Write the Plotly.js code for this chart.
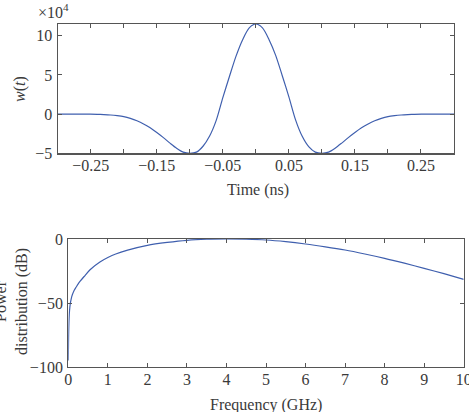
<!DOCTYPE html>
<html><head><meta charset="utf-8">
<script src="https://cdn.plot.ly/plotly-3.0.1.min.js"></script>
<style>html,body{margin:0;padding:0;background:#fff}#chart{width:469px;height:412px}</style>
</head><body><div id="chart"></div>
<script>
// Top panel: waveform w(t), values in units of 10^4
const timeNs = [-0.30,-0.28,-0.26,-0.24,-0.23,-0.22,-0.21,-0.20,-0.19,-0.18,-0.17,-0.16,-0.15,-0.14,-0.13,-0.12,-0.11,-0.10,-0.09,-0.08,-0.07,-0.06,-0.05,-0.04,-0.03,-0.02,-0.01,0,
  0.01,0.02,0.03,0.04,0.05,0.06,0.07,0.08,0.09,0.10,0.11,0.12,0.13,0.14,0.15,0.16,0.17,0.18,0.19,0.20,0.21,0.22,0.23,0.24,0.26,0.28,0.30];
const waveform = [0,0,0,-0.03,-0.06,-0.11,-0.2,-0.33,-0.55,-0.85,-1.25,-1.75,-2.35,-3.0,-3.7,-4.35,-4.85,-5.0,-4.85,-4.1,-2.8,-0.8,2.1,4.8,7.4,9.5,11.0,11.5,
  11.0,9.5,7.5,4.9,2.2,-0.7,-2.8,-4.15,-4.85,-5.0,-4.85,-4.35,-3.7,-3.0,-2.35,-1.75,-1.25,-0.85,-0.55,-0.33,-0.2,-0.11,-0.06,-0.03,0,0,0];
const timeTickVals = [-0.25,-0.15,-0.05,0.05,0.15,0.25];
const timeTickText = ['\u22120.25','\u22120.15','\u22120.05','0.05','0.15','0.25'];
const timeMinorVals = [-0.2,-0.1,0,0.1,0.2];
const waveTickVals = [-5,0,5,10];

// Bottom panel: power distribution (dB)
const freqGHz = [0,0.005,0.01,0.02,0.03,0.05,0.075,0.1,0.15,0.2,0.25,0.3,0.4,0.55,0.8,1.0,1.2,1.5,2.0,2.5,3.0,3.5,4.0,4.5,5.0,5.5,6.0,6.5,7.0,7.5,8.0,8.5,9.0,9.5,10];
const powerDb = [-95,-82,-72,-62,-56.5,-50.5,-46.5,-43.8,-40,-37.5,-35,-33,-29.3,-24,-18,-14.5,-11.7,-8.7,-5,-2.7,-1.0,-0.2,0,-0.2,-0.8,-2.1,-3.9,-6.1,-8.6,-11.7,-15.1,-18.9,-22.9,-27.1,-31.5];
const freqTickVals = [0,1,2,3,4,5,6,7,8,9,10];
const powerTickVals = [-100,-50,0];

const W = 469, H = 412;
const px = x => x / W;
const py = y => 1 - y / H;

const lineColor = '#3f5fae';
const axisColor = '#555555';
const textColor = '#3a3a3a';
const font = {family: '"Liberation Serif", "Times New Roman", serif', size: 16, color: textColor};

const axisBase = {
  showline: true, linecolor: axisColor, linewidth: 1.2, mirror: 'ticks',
  ticks: 'inside', ticklen: 4, tickwidth: 1, tickcolor: axisColor,
  showgrid: false, zeroline: false, tickfont: font, fixedrange: true,
  ticklabeloverflow: 'allow'
};

const data = [
  {x: timeNs, y: waveform, type: 'scatter', mode: 'lines', xaxis: 'x', yaxis: 'y',
   line: {color: lineColor, width: 1.2, shape: 'spline', smoothing: 0.8}, hoverinfo: 'skip'},
  {x: freqGHz, y: powerDb, type: 'scatter', mode: 'lines', xaxis: 'x2', yaxis: 'y2',
   line: {color: lineColor, width: 1.2, shape: 'spline', smoothing: 0.8}, hoverinfo: 'skip'}
];

const layout = {
  width: W, height: H,
  margin: {l: 0, r: 0, t: 0, b: 0},
  paper_bgcolor: '#fff', plot_bgcolor: '#fff',
  showlegend: false, font: font,
  xaxis: Object.assign({}, axisBase, {
    domain: [px(57.7), px(454)], range: [-0.3, 0.3], anchor: 'y',
    tickmode: 'array', tickvals: timeTickVals, ticktext: timeTickText, ticklabelstandoff: -3,
    minor: {tickmode: 'array', tickvals: timeMinorVals, ticks: 'inside', ticklen: 4, tickwidth: 1, tickcolor: axisColor, showgrid: false}
  }),
  yaxis: Object.assign({}, axisBase, {
    domain: [py(153.3), py(24)], range: [-5, 11.5], anchor: 'x',
    tickmode: 'array', tickvals: waveTickVals, ticklabelstandoff: 1
  }),
  xaxis2: Object.assign({}, axisBase, {
    domain: [px(68.3), px(463.7)], range: [0, 10], anchor: 'y2',
    tickmode: 'array', tickvals: freqTickVals, ticklabelstandoff: -2
  }),
  yaxis2: Object.assign({}, axisBase, {
    domain: [py(367), py(239)], range: [-100, 0], anchor: 'x2',
    tickmode: 'array', tickvals: powerTickVals, ticklabelstandoff: 1
  }),
  annotations: [
    {text: '\u00d710<sup>4</sup>', xref: 'paper', yref: 'paper', x: px(36), y: py(11),
     xanchor: 'left', yanchor: 'middle', showarrow: false, font: font},
    {text: '<i>w</i>(<i>t</i>)', xref: 'paper', yref: 'paper', x: px(20), y: py(89),
     xanchor: 'center', yanchor: 'middle', textangle: -90, showarrow: false, font: font},
    {text: 'Time (ns)', xref: 'paper', yref: 'paper', x: px(258), y: py(190),
     xanchor: 'center', yanchor: 'middle', showarrow: false, font: font},
    {text: 'Power<br>distribution (dB)', xref: 'paper', yref: 'paper', x: px(11), y: py(302),
     xanchor: 'center', yanchor: 'middle', textangle: -90, showarrow: false, font: font},
    {text: 'Frequency (GHz)', xref: 'paper', yref: 'paper', x: px(266), y: py(405),
     xanchor: 'center', yanchor: 'middle', showarrow: false, font: font}
  ]
};

Plotly.newPlot('chart', data, layout, {staticPlot: true, displayModeBar: false});
</script>
</body></html>
